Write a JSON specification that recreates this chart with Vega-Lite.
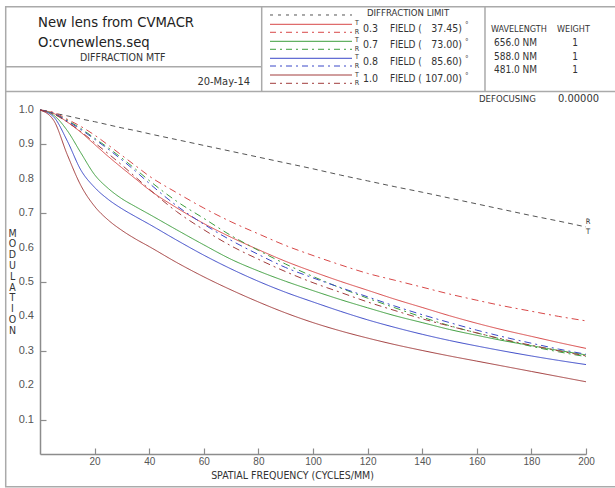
{
  "$schema": "https://vega.github.io/schema/vega-lite/v6.json",
  "width": 546,
  "height": 344,
  "autosize": {"type": "none"},
  "padding": {"left": 40, "top": 110, "right": 29, "bottom": 34},
  "background": "white",
  "config": {"view": {"stroke": null}, "font": "DejaVu Sans Condensed, Liberation Sans, sans-serif",
    "axis": {"labelOverlap": false, "labelFlush": false}},
  "data": {"values": [{}]},
  "layer": [
    {
      "data": {"values": [
        {"freq": 0, "DL": 1.0, "T03": 1.0, "R03": 1.0, "T07": 1.0, "R07": 1.0, "T08": 1.0, "R08": 1.0, "T10": 1.0, "R10": 1.0},
        {"freq": 5, "DL": 0.991, "T03": 0.99, "R03": 0.993, "T07": 0.985, "R07": 0.99, "T08": 0.98, "R08": 0.99, "T10": 0.97, "R10": 0.988},
        {"freq": 10, "DL": 0.983, "T03": 0.965, "R03": 0.973, "T07": 0.94, "R07": 0.97, "T08": 0.91, "R08": 0.968, "T10": 0.87, "R10": 0.965},
        {"freq": 15, "DL": 0.974, "T03": 0.935, "R03": 0.952, "T07": 0.875, "R07": 0.946, "T08": 0.825, "R08": 0.943, "T10": 0.78, "R10": 0.937},
        {"freq": 20, "DL": 0.966, "T03": 0.9, "R03": 0.927, "T07": 0.812, "R07": 0.918, "T08": 0.775, "R08": 0.915, "T10": 0.72, "R10": 0.905},
        {"freq": 25, "DL": 0.957, "T03": 0.865, "R03": 0.898, "T07": 0.772, "R07": 0.89, "T08": 0.74, "R08": 0.886, "T10": 0.68, "R10": 0.873},
        {"freq": 30, "DL": 0.948, "T03": 0.832, "R03": 0.868, "T07": 0.742, "R07": 0.86, "T08": 0.713, "R08": 0.855, "T10": 0.65, "R10": 0.84},
        {"freq": 35, "DL": 0.94, "T03": 0.8, "R03": 0.838, "T07": 0.719, "R07": 0.828, "T08": 0.69, "R08": 0.822, "T10": 0.625, "R10": 0.805},
        {"freq": 40, "DL": 0.931, "T03": 0.768, "R03": 0.808, "T07": 0.697, "R07": 0.795, "T08": 0.668, "R08": 0.787, "T10": 0.603, "R10": 0.77},
        {"freq": 50, "DL": 0.914, "T03": 0.716, "R03": 0.76, "T07": 0.652, "R07": 0.735, "T08": 0.622, "R08": 0.722, "T10": 0.557, "R10": 0.705},
        {"freq": 60, "DL": 0.897, "T03": 0.67, "R03": 0.715, "T07": 0.608, "R07": 0.685, "T08": 0.578, "R08": 0.668, "T10": 0.515, "R10": 0.652},
        {"freq": 70, "DL": 0.88, "T03": 0.63, "R03": 0.675, "T07": 0.566, "R07": 0.635, "T08": 0.538, "R08": 0.621, "T10": 0.477, "R10": 0.605},
        {"freq": 80, "DL": 0.863, "T03": 0.594, "R03": 0.64, "T07": 0.532, "R07": 0.592, "T08": 0.502, "R08": 0.58, "T10": 0.442, "R10": 0.566},
        {"freq": 90, "DL": 0.846, "T03": 0.56, "R03": 0.606, "T07": 0.502, "R07": 0.552, "T08": 0.47, "R08": 0.542, "T10": 0.41, "R10": 0.53},
        {"freq": 100, "DL": 0.829, "T03": 0.53, "R03": 0.577, "T07": 0.475, "R07": 0.516, "T08": 0.442, "R08": 0.512, "T10": 0.382, "R10": 0.498},
        {"freq": 110, "DL": 0.811, "T03": 0.502, "R03": 0.55, "T07": 0.449, "R07": 0.483, "T08": 0.415, "R08": 0.484, "T10": 0.358, "R10": 0.47},
        {"freq": 120, "DL": 0.794, "T03": 0.476, "R03": 0.525, "T07": 0.425, "R07": 0.453, "T08": 0.39, "R08": 0.457, "T10": 0.337, "R10": 0.442},
        {"freq": 130, "DL": 0.777, "T03": 0.45, "R03": 0.505, "T07": 0.402, "R07": 0.425, "T08": 0.368, "R08": 0.43, "T10": 0.318, "R10": 0.417},
        {"freq": 140, "DL": 0.761, "T03": 0.426, "R03": 0.485, "T07": 0.382, "R07": 0.398, "T08": 0.348, "R08": 0.405, "T10": 0.301, "R10": 0.393},
        {"freq": 150, "DL": 0.744, "T03": 0.402, "R03": 0.465, "T07": 0.362, "R07": 0.373, "T08": 0.33, "R08": 0.382, "T10": 0.285, "R10": 0.372},
        {"freq": 160, "DL": 0.727, "T03": 0.38, "R03": 0.447, "T07": 0.345, "R07": 0.352, "T08": 0.314, "R08": 0.36, "T10": 0.27, "R10": 0.352},
        {"freq": 170, "DL": 0.71, "T03": 0.36, "R03": 0.43, "T07": 0.329, "R07": 0.332, "T08": 0.299, "R08": 0.34, "T10": 0.255, "R10": 0.333},
        {"freq": 180, "DL": 0.693, "T03": 0.342, "R03": 0.415, "T07": 0.315, "R07": 0.313, "T08": 0.285, "R08": 0.322, "T10": 0.24, "R10": 0.316},
        {"freq": 190, "DL": 0.677, "T03": 0.324, "R03": 0.4, "T07": 0.301, "R07": 0.297, "T08": 0.272, "R08": 0.305, "T10": 0.225, "R10": 0.3},
        {"freq": 200, "DL": 0.66, "T03": 0.307, "R03": 0.387, "T07": 0.288, "R07": 0.283, "T08": 0.26, "R08": 0.29, "T10": 0.21, "R10": 0.285}
      ]},
      "transform": [{"fold": ["DL", "T03", "R03", "T07", "R07", "T08", "R08", "T10", "R10"], "as": ["series", "mtf"]}],
      "mark": {"type": "line", "strokeWidth": 1, "interpolate": "monotone"},
      "encoding": {
        "x": {"field": "freq", "type": "quantitative",
          "scale": {"domain": [0, 200], "nice": false, "zero": false},
          "axis": {"values": [20, 40, 60, 80, 100, 120, 140, 160, 180, 200], "title": "SPATIAL FREQUENCY (CYCLES/MM)", "grid": false,
            "labelOverlap": false, "labelFlush": false,
            "domainColor": "#8c8c8c", "domainWidth": 1.5, "tickColor": "#8c8c8c", "tickWidth": 1.2, "tickSize": -6, "labelPadding": 8,
            "labelFont": "Liberation Sans", "labelFontSize": 10, "labelColor": "#555555",
            "titleFontSize": 10.5, "titleFontWeight": "normal", "titleColor": "#333333",
            "titleX": 252, "titleY": 21, "titleBaseline": "middle", "titleAlign": "center"}},
        "y": {"field": "mtf", "type": "quantitative",
          "scale": {"domain": [0, 1], "nice": false, "zero": false},
          "axis": {"values": [0.1, 0.2, 0.3, 0.4, 0.5, 0.6, 0.7, 0.8, 0.9, 1.0], "labels": false, "grid": false,
            "title": ["M", "O", "D", "U", "L", "A", "T", "I", "O", "N"],
            "titleAngle": 0, "titleX": -28, "titleY": 123, "titleAlign": "center", "titleBaseline": "middle", "titleLineHeight": 10.8,
            "titleFontSize": 10.5, "titleFontWeight": "normal", "titleColor": "#333333",
            "domainColor": "#8c8c8c", "domainWidth": 1.5, "tickColor": "#8c8c8c", "tickWidth": 1.2, "tickSize": -6}},
        "color": {"field": "series", "type": "nominal", "legend": null,
          "scale": {"domain": ["DL", "T03", "R03", "T07", "R07", "T08", "R08", "T10", "R10"],
            "range": ["#555555", "#d84848", "#d84848", "#3d9e3d", "#3d9e3d", "#3a48c8", "#3a48c8", "#a23c3c", "#a23c3c"]}},
        "strokeDash": {"field": "series", "type": "nominal", "legend": null,
          "scale": {"domain": ["DL", "T03", "R03", "T07", "R07", "T08", "R08", "T10", "R10"],
            "range": [[5, 4], [1, 0], [7, 4, 2, 4], [1, 0], [7, 4, 2, 4], [1, 0], [7, 4, 2, 4], [1, 0], [7, 4, 2, 4]]}}
      }
    },
    {
      "data": {"values": [{"tick": 0.1}, {"tick": 0.2}, {"tick": 0.3}, {"tick": 0.4}, {"tick": 0.5}, {"tick": 0.6}, {"tick": 0.7}, {"tick": 0.8}, {"tick": 0.9}, {"tick": 1.0}]},
      "mark": {"type": "text", "align": "right", "baseline": "middle", "font": "Liberation Sans", "fontSize": 11, "color": "#555555"},
      "encoding": {
        "x": {"datum": -2.2},
        "y": {"field": "tick", "type": "quantitative"},
        "text": {"field": "tick", "type": "quantitative", "format": ".1f"}
      }
    },
    {"mark": {"type": "rect", "fillOpacity": 0, "stroke": "#aaaaaa", "strokeWidth": 1.5},
     "encoding": {"x": {"datum": -12.56}, "x2": {"datum": 212}, "y": {"datum": 1.3003}, "y2": {"datum": -0.095}}},
    {"mark": {"type": "rule", "color": "#aaaaaa", "strokeWidth": 1.5},
     "encoding": {"x": {"datum": -12.56}, "x2": {"datum": 212}, "y": {"datum": 1.0538}}},
    {"mark": {"type": "rule", "color": "#aaaaaa", "strokeWidth": 1.5},
     "encoding": {"x": {"datum": -12.56}, "x2": {"datum": 81.21}, "y": {"datum": 1.1259}}},
    {"mark": {"type": "rule", "color": "#aaaaaa", "strokeWidth": 1.5},
     "encoding": {"x": {"datum": 81.21}, "y": {"datum": 1.3003}, "y2": {"datum": 1.0538}}},
    {"mark": {"type": "rule", "color": "#aaaaaa", "strokeWidth": 1.5},
     "encoding": {"x": {"datum": 163.0}, "y": {"datum": 1.3003}, "y2": {"datum": 1.0538}}},

    {"mark": {"type": "rule", "color": "#555555", "strokeWidth": 1, "strokeDash": [3, 5]},
     "encoding": {"x": {"datum": 84.25}, "x2": {"datum": 114.29}, "y": {"datum": 1.2762}}},
    {"mark": {"type": "rule", "color": "#d84848", "strokeWidth": 1},
     "encoding": {"x": {"datum": 84.25}, "x2": {"datum": 114.29}, "y": {"datum": 1.2491}}},
    {"mark": {"type": "rule", "color": "#d84848", "strokeWidth": 1, "strokeDash": [6, 4, 2, 4]},
     "encoding": {"x": {"datum": 84.25}, "x2": {"datum": 114.29}, "y": {"datum": 1.2259}}},
    {"mark": {"type": "rule", "color": "#3d9e3d", "strokeWidth": 1},
     "encoding": {"x": {"datum": 84.25}, "x2": {"datum": 114.29}, "y": {"datum": 1.1997}}},
    {"mark": {"type": "rule", "color": "#3d9e3d", "strokeWidth": 1, "strokeDash": [6, 4, 2, 4]},
     "encoding": {"x": {"datum": 84.25}, "x2": {"datum": 114.29}, "y": {"datum": 1.1765}}},
    {"mark": {"type": "rule", "color": "#3a48c8", "strokeWidth": 1},
     "encoding": {"x": {"datum": 84.25}, "x2": {"datum": 114.29}, "y": {"datum": 1.1503}}},
    {"mark": {"type": "rule", "color": "#3a48c8", "strokeWidth": 1, "strokeDash": [6, 4, 2, 4]},
     "encoding": {"x": {"datum": 84.25}, "x2": {"datum": 114.29}, "y": {"datum": 1.1279}}},
    {"mark": {"type": "rule", "color": "#a23c3c", "strokeWidth": 1},
     "encoding": {"x": {"datum": 84.25}, "x2": {"datum": 114.29}, "y": {"datum": 1.1017}}},
    {"mark": {"type": "rule", "color": "#a23c3c", "strokeWidth": 1, "strokeDash": [6, 4, 2, 4]},
     "encoding": {"x": {"datum": 84.25}, "x2": {"datum": 114.29}, "y": {"datum": 1.0776}}},

    {"mark": {"type": "text", "text": "New lens from CVMACR", "align": "left", "baseline": "alphabetic", "fontSize": 14.7, "color": "#222222"},
     "encoding": {"x": {"datum": -0.73}, "y": {"datum": 1.2413}}},
    {"mark": {"type": "text", "text": "O:cvnewlens.seq", "align": "left", "baseline": "alphabetic", "fontSize": 14.7, "color": "#222222"},
     "encoding": {"x": {"datum": -0.73}, "y": {"datum": 1.1831}}},
    {"mark": {"type": "text", "text": "DIFFRACTION MTF", "align": "left", "baseline": "alphabetic", "fontSize": 10.5, "color": "#333333"},
     "encoding": {"x": {"datum": 14.65}, "y": {"datum": 1.1424}}},
    {"mark": {"type": "text", "text": "20-May-14", "align": "right", "baseline": "alphabetic", "fontSize": 11, "color": "#333333"},
     "encoding": {"x": {"datum": 76.92}, "y": {"datum": 1.0727}}},
    {"mark": {"type": "text", "text": "DIFFRACTION LIMIT", "align": "left", "baseline": "middle", "fontSize": 9.5, "color": "#333333"},
     "encoding": {"x": {"datum": 119.78}, "y": {"datum": 1.2811}}},
    {"mark": {"type": "text", "text": ["T", "R", "T", "R", "T", "R", "T", "R"], "align": "center", "baseline": "middle", "fontSize": 7, "lineHeight": 8.6, "color": "#333333"},
     "encoding": {"x": {"datum": 116.12}, "y": {"datum": 1.2529}}},
    {"mark": {"type": "text", "text": ["0.3", "0.7", "0.8", "1.0"], "align": "left", "baseline": "middle", "fontSize": 10.5, "lineHeight": 16.9, "color": "#333333"},
     "encoding": {"x": {"datum": 118.32}, "y": {"datum": 1.2369}}},
    {"mark": {"type": "text", "text": ["FIELD  (", "FIELD  (", "FIELD  (", "FIELD  ("], "align": "left", "baseline": "middle", "fontSize": 10, "lineHeight": 16.9, "color": "#333333"},
     "encoding": {"x": {"datum": 128.2}, "y": {"datum": 1.2369}}},
    {"mark": {"type": "text", "text": ["37.45)", "73.00)", "85.60)", "107.00)"], "align": "right", "baseline": "middle", "fontSize": 10.5, "lineHeight": 16.9, "color": "#333333"},
     "encoding": {"x": {"datum": 154.58}, "y": {"datum": 1.2369}}},
    {"mark": {"type": "text", "text": ["°", "°", "°", "°"], "align": "left", "baseline": "middle", "fontSize": 8, "lineHeight": 16.9, "color": "#555555"},
     "encoding": {"x": {"datum": 155.7}, "y": {"datum": 1.2442}}},
    {"mark": {"type": "text", "text": "WAVELENGTH", "align": "left", "baseline": "middle", "fontSize": 9, "color": "#333333"},
     "encoding": {"x": {"datum": 165.2}, "y": {"datum": 1.2346}}},
    {"mark": {"type": "text", "text": "WEIGHT", "align": "left", "baseline": "middle", "fontSize": 9, "color": "#333333"},
     "encoding": {"x": {"datum": 189.38}, "y": {"datum": 1.2346}}},
    {"mark": {"type": "text", "text": ["656.0 NM", "588.0 NM", "481.0 NM"], "align": "left", "baseline": "middle", "fontSize": 10, "lineHeight": 13.3, "color": "#333333"},
     "encoding": {"x": {"datum": 166.3}, "y": {"datum": 1.1939}}},
    {"mark": {"type": "text", "text": ["1", "1", "1"], "align": "center", "baseline": "middle", "fontSize": 10, "lineHeight": 13.3, "color": "#333333"},
     "encoding": {"x": {"datum": 195.97}, "y": {"datum": 1.1939}}},
    {"mark": {"type": "text", "text": "DEFOCUSING", "align": "left", "baseline": "middle", "fontSize": 9.5, "color": "#333333"},
     "encoding": {"x": {"datum": 160.81}, "y": {"datum": 1.0334}}},
    {"mark": {"type": "text", "text": "0.00000", "align": "right", "baseline": "middle", "fontSize": 11, "color": "#333333"},
     "encoding": {"x": {"datum": 204.76}, "y": {"datum": 1.0334}}},
    {"mark": {"type": "text", "text": ["R", "T"], "align": "center", "baseline": "middle", "fontSize": 7.5, "lineHeight": 10, "color": "#333333"},
     "encoding": {"x": {"datum": 200.73}, "y": {"datum": 0.6744}}}
  ]
}
